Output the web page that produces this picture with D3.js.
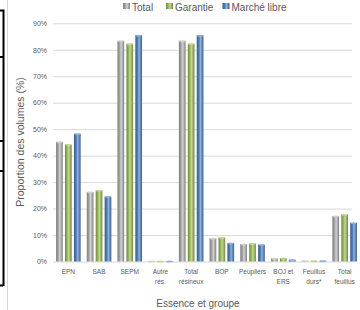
<!DOCTYPE html>
<html><head><meta charset="utf-8">
<script src="https://cdn.jsdelivr.net/npm/d3@7"></script>
<style>
html,body{margin:0;padding:0;background:#fff;}
svg{display:block;font-family:"Liberation Sans",Arial,sans-serif;}
</style></head>
<body>
<svg id="c" width="360" height="310"></svg>
<script>
const categories = [["EPN"],["SAB"],["SEPM"],["Autre","rés."],["Total","résineux"],["BOP"],["Peupliers"],["BOJ et","ERS"],["Feuillus","durs*"],["Total","feuillus"]];
const seriesNames = ["Total","Garantie","Marché libre"];
const totalVals    = [45.2, 26.3, 83.4, 0.2, 83.4, 8.8, 6.6, 1.2, 0.3, 17.2];
const garantieVals = [44.2, 26.9, 82.3, 0.2, 82.3, 9.1, 6.8, 1.3, 0.3, 17.8];
const libreVals    = [48.3, 24.6, 85.5, 0.2, 85.5, 7.0, 6.4, 0.7, 0.3, 14.6];
const yTicks = [0,10,20,30,40,50,60,70,80,90];
const colors = ["#a5a5a5","#9bbb59","#4f81bd"];
const darks  = ["#7f7f7f","#71893f","#385d8a"];
const lights = ["#d4d4d4","#c3d69b","#95b3d7"];

const svg = d3.select("#c");
const W=360,H=310;
const x = d3.scaleBand().domain(d3.range(categories.length)).range([53,360]).paddingInner(0.2).paddingOuter(0.1);
const y = d3.scaleLinear().domain([0,90]).range([261.5,23.3]);
const xs = d3.scaleBand().domain(d3.range(3)).range([0,x.bandwidth()]).paddingInner(0.25);

// left border decorations
svg.append("line").attr("x1",7.5).attr("x2",7.5).attr("y1",0).attr("y2",H).attr("stroke","#d9d9d9").attr("stroke-width",1);
svg.append("path").attr("d","M0,10.5H3.5V286M0,57H3M0,141H3M0,171H3M0,285.5H3").attr("fill","none").attr("stroke","#000").attr("stroke-width",2);

// gradients
const defs = svg.append("defs");
colors.forEach((c,i)=>{
  const g = defs.append("linearGradient").attr("id","g"+i).attr("x1","0").attr("x2","1").attr("y1","0").attr("y2","0");
  g.append("stop").attr("offset","0").attr("stop-color",darks[i]);
  g.append("stop").attr("offset","0.35").attr("stop-color",c);
  g.append("stop").attr("offset","0.55").attr("stop-color",lights[i]);
  g.append("stop").attr("offset","1").attr("stop-color",darks[i]);
});

// gridlines
const yAxis = d3.axisLeft(y).tickValues(yTicks).tickFormat(d=>d+"%").tickSize(-(352-53)).tickPadding(6);
const ga = svg.append("g").attr("transform","translate(53,0)").call(yAxis);
ga.select(".domain").remove();
ga.selectAll(".tick line").attr("stroke","#d9d9d9").attr("stroke-width",1);
ga.selectAll(".tick text").attr("fill","#595959").attr("font-size",7);

// bars
const series = [totalVals, garantieVals, libreVals];
series.forEach((vals,si)=>{
  const g = svg.append("g");
  g.selectAll("rect").data(vals).join("rect")
    .attr("x",(d,i)=>x(i)+xs(si))
    .attr("y",d=>y(d))
    .attr("width",xs.bandwidth())
    .attr("height",d=>y(0)-y(d))
    .attr("fill","url(#g"+si+")");
  g.selectAll("ellipse").data(vals).join("ellipse")
    .attr("cx",(d,i)=>x(i)+xs(si)+xs.bandwidth()/2)
    .attr("cy",d=>y(d)+0.5)
    .attr("rx",xs.bandwidth()/2-0.3)
    .attr("ry",1)
    .attr("fill",lights[si]).attr("opacity",0.9);
});

// x labels
const xl = svg.append("g");
categories.forEach((lines,i)=>{
  const t = xl.append("text").attr("x",x(i)+x.bandwidth()/2).attr("y",274)
    .attr("text-anchor","middle").attr("font-size",6.5).attr("fill","#595959");
  lines.forEach((l,j)=>t.append("tspan").attr("x",x(i)+x.bandwidth()/2).attr("dy",j?9.5:0).text(l));
});

// axis titles
svg.append("text").attr("transform","translate(24,142) rotate(-90)").attr("text-anchor","middle")
  .attr("font-size",10.5).attr("fill","#595959").text("Proportion des volumes (%)");
svg.append("text").attr("x",198).attr("y",306.5).attr("text-anchor","middle")
  .attr("font-size",10).attr("fill","#595959").text("Essence et groupe");

// legend
const legX = [123,166,222.5];
seriesNames.forEach((n,i)=>{
  svg.append("rect").attr("x",legX[i]).attr("y",3).attr("width",7).attr("height",6).attr("fill","url(#g"+i+")");
  svg.append("text").attr("x",legX[i]+9).attr("y",11).attr("font-size",10).attr("fill","#595959").text(n);
});
</script>
</body></html>
